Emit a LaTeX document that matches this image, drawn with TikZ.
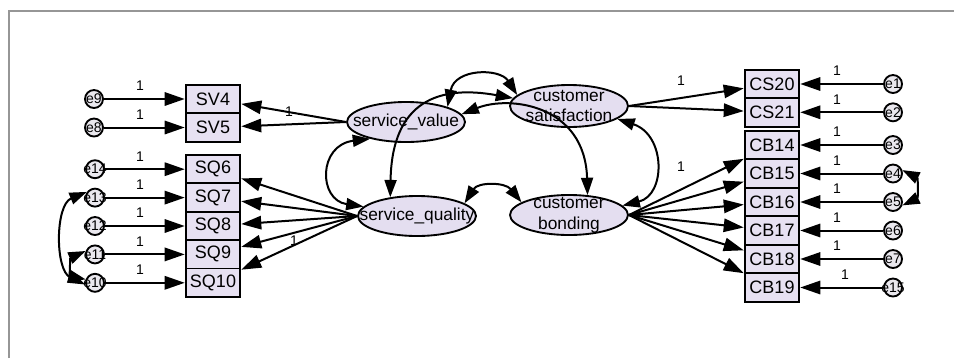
\documentclass[tikz,border=0pt]{standalone}
\usepackage{fontspec}
\setmainfont{Liberation Sans}
\usetikzlibrary{arrows.meta, shapes.geometric}
\definecolor{obsfill}{RGB}{231,225,242}
\definecolor{latfill}{RGB}{228,222,240}
\definecolor{errfill}{RGB}{234,232,238}
\definecolor{framegray}{RGB}{150,150,150}
\tikzset{
  obs/.style={draw, line width=1.4pt, fill=obsfill, minimum width=41pt, minimum height=21.4pt, inner sep=0pt, font=\fontsize{13.5}{15}\selectfont},
  lat/.style={ellipse, draw, line width=1.4pt, fill=latfill, minimum width=88.5pt, minimum height=30pt, inner sep=0pt},
  lattext/.style={font=\fontsize{13}{15.5}\selectfont, align=center, inner sep=0pt},
  err/.style={circle, draw, line width=1.4pt, fill=errfill, minimum size=13.5pt, inner sep=0pt},
  errtext/.style={font=\fontsize{10.5}{12}\selectfont, inner sep=0pt},
  one/.style={font=\fontsize{10.5}{12}\selectfont, inner sep=0pt},
  reg/.style={-{Triangle[length=15pt,width=10pt]}, line width=1.5pt},
  cov/.style={{Triangle[length=13pt,width=9pt]}-{Triangle[length=13pt,width=9pt]}, line width=1.5pt}
}
\begin{document}
\begin{tikzpicture}[x=0.75pt,y=0.75pt,yscale=-1,xscale=1]
    \useasboundingbox (0,0) rectangle (954,358);
    
    %Frame
    \draw [framegray, line width=1pt] (9,358) -- (9,11) -- (954,11);
    
    %Shape: Ellipse [service_value]
    \draw (406,122) node [lat, label={[lattext]center:service\_value}] (sv) {};
    %Shape: Ellipse [service_quality]
    \draw (417,216) node [lat, label={[lattext]center:service\_quality}] (sq) {};
    %Shape: Ellipse [customer satisfaction]
    \draw (569,106) node [lat, minimum height=31.5pt, label={[lattext]center:customer\\satisfaction}] (cs) {};
    %Shape: Ellipse [customer bonding]
    \draw (569,215) node [lat, label={[lattext]center:customer\\bonding}] (cb) {};
    
    %Shape: Rectangle [left column]
    \draw (213,99) node [obs] (sv4) {SV4};
    \draw (213,127.5) node [obs] (sv5) {SV5};
    \draw (213,169.2) node [obs] (sq6) {SQ6};
    \draw (213,197.6) node [obs] (sq7) {SQ7};
    \draw (213,226) node [obs] (sq8) {SQ8};
    \draw (213,254.4) node [obs] (sq9) {SQ9};
    \draw (213,282.8) node [obs] (sq10) {SQ10};
    %Shape: Rectangle [right column]
    \draw (772,84) node [obs] (cs20) {CS20};
    \draw (772,112.3) node [obs] (cs21) {CS21};
    \draw (772,145) node [obs] (cb14) {CB14};
    \draw (772,173.5) node [obs] (cb15) {CB15};
    \draw (772,202) node [obs] (cb16) {CB16};
    \draw (772,230.5) node [obs] (cb17) {CB17};
    \draw (772,259) node [obs] (cb18) {CB18};
    \draw (772,287.5) node [obs] (cb19) {CB19};
    
    %Shape: Circle [left errors]
    \draw (94,99) node [err, label={[errtext]center:e9}] (e9) {};
    \draw (94,127.5) node [err, label={[errtext]center:e8}] (e8) {};
    \draw (95,169.2) node [err, label={[errtext]center:e14}] (e14) {};
    \draw (95,197.6) node [err, label={[errtext]center:e13}] (e13) {};
    \draw (95,226) node [err, label={[errtext]center:e12}] (e12) {};
    \draw (95,254.4) node [err, label={[errtext]center:e11}] (e11) {};
    \draw (95,282.8) node [err, label={[errtext]center:e10}] (e10) {};
    %Shape: Circle [right errors]
    \draw (893,84) node [err, label={[errtext]center:e1}] (e1) {};
    \draw (893,112.3) node [err, label={[errtext]center:e2}] (e2) {};
    \draw (893,145) node [err, label={[errtext]center:e3}] (e3) {};
    \draw (893,173.5) node [err, label={[errtext]center:e4}] (e4) {};
    \draw (893,202) node [err, label={[errtext]center:e5}] (e5) {};
    \draw (893,230.5) node [err, label={[errtext]center:e6}] (e6) {};
    \draw (893,259) node [err, label={[errtext]center:e7}] (e7) {};
    \draw (893,287.5) node [err, label={[errtext]center:e15}] (e15) {};
    
    %Straight Lines [errors to indicators]
    \draw [reg] (e9) -- (sv4);
    \draw [reg] (e8) -- (sv5);
    \draw [reg] (e14) -- (sq6);
    \draw [reg] (e13) -- (sq7);
    \draw [reg] (e12) -- (sq8);
    \draw [reg] (e11) -- (sq9);
    \draw [reg] (e10) -- (sq10);
    \draw [reg] (e1) -- (cs20);
    \draw [reg] (e2) -- (cs21);
    \draw [reg] (e3) -- (cb14);
    \draw [reg] (e4) -- (cb15);
    \draw [reg] (e5) -- (cb16);
    \draw [reg] (e6) -- (cb17);
    \draw [reg] (e7) -- (cb18);
    \draw [reg] (e15) -- (cb19);
    
    %Straight Lines [factors to indicators]
    \draw [reg] (sv.west) -- (sv4);
    \draw [reg] (sv.west) -- (sv5);
    \draw [reg] (sq.west) -- (sq6);
    \draw [reg] (sq.west) -- (sq7);
    \draw [reg] (sq.west) -- (sq8);
    \draw [reg] (sq.west) -- (sq9);
    \draw [reg] (sq.west) -- (sq10);
    \draw [reg] (cs.east) -- (cs20);
    \draw [reg] (cs.east) -- (cs21);
    \draw [reg] (cb.east) -- (cb14);
    \draw [reg] (cb.east) -- (cb15);
    \draw [reg] (cb.east) -- (cb16);
    \draw [reg] (cb.east) -- (cb17);
    \draw [reg] (cb.east) -- (cb18);
    \draw [reg] (cb.east) -- (cb19);
    
    %Curve Lines [covariances]
    \draw [cov] (sv.205) .. controls (318,145) and (318,200) .. (sq.170);
    \draw [cov] (cs.-15) .. controls (666,135) and (666,195) .. (cb.10);
    \draw [cov] (sq.15) .. controls (478,182) and (505,182) .. (cb.165);
    \draw [cov] (sv.20) .. controls (455,68) and (500,68) .. (cs.168);
    \draw [cov] (sq.145) .. controls (392,100) and (440,85) .. (cs.172);
    \draw [cov] (sv.8) .. controls (510,95) and (585,105) .. (cb.47);
    \draw [cov] (e13.145) .. controls (55,205) and (55,270) .. (e10.190);
    \draw [cov] (e11.160) .. controls (70,258) and (70,276) .. (e10.160);
    \draw [cov] (e4.20) .. controls (918,178) and (918,198) .. (e5.-20);
    
    % Text Node [weights]
    \draw (140,86) node [one] (w9) {1};
    \draw (140,114.5) node [one] (w8) {1};
    \draw (140,156.2) node [one] (w14) {1};
    \draw (140,184.6) node [one] (w13) {1};
    \draw (140,213) node [one] (w12) {1};
    \draw (140,241.4) node [one] (w11) {1};
    \draw (140,269.8) node [one] (w10) {1};
    \draw (837,71) node [one] (w1) {1};
    \draw (837,99.3) node [one] (w2) {1};
    \draw (837,132) node [one] (w3) {1};
    \draw (837,160.5) node [one] (w4) {1};
    \draw (837,189) node [one] (w5) {1};
    \draw (837,217.5) node [one] (w6) {1};
    \draw (837,246) node [one] (w7) {1};
    \draw (845,274.5) node [one] (w15) {1};
    \draw (289,112) node [one] (wsv) {1};
    \draw (294,241) node [one] (wsq) {1};
    \draw (681,81) node [one] (wcs) {1};
    \draw (681,167) node [one] (wcb) {1};
    
\end{tikzpicture}
\end{document}
